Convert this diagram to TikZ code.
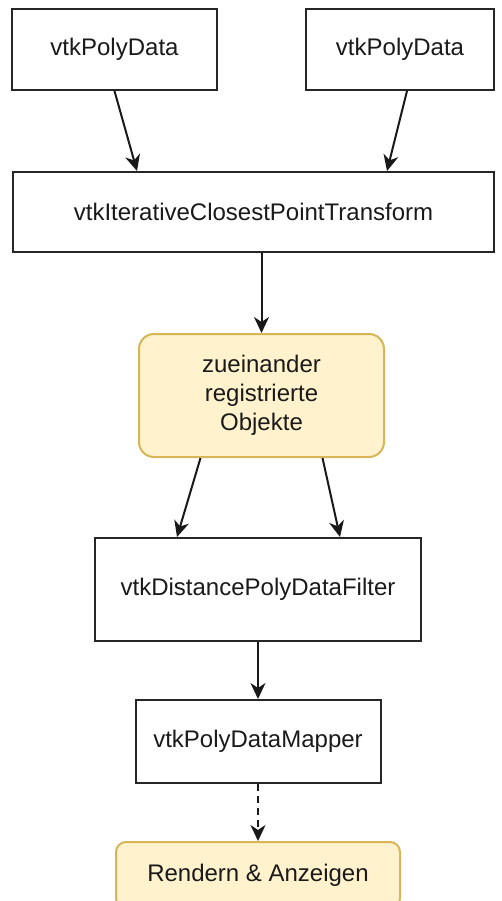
\documentclass[tikz,border=0pt]{standalone}
\usepackage{fontspec}
\setmainfont{Liberation Sans}
\usetikzlibrary{arrows.meta}
\definecolor{txt}{HTML}{1A1A1A}
\definecolor{yfill}{HTML}{FFF2CC}
\definecolor{ydraw}{HTML}{D6B656}
\tikzset{
  box/.style={draw=black!85, line width=2pt, fill=white, text=txt, align=center, inner sep=0pt,
    font=\fontsize{24}{29}\selectfont},
  ybox/.style={box, draw=ydraw, fill=yfill, rounded corners=15pt},
  arr/.style={line width=2pt, black!90, -{Stealth[length=16pt,width=15pt,inset=5pt]}},
  darr/.style={arr, dash pattern=on 7pt off 5pt},
}
\begin{document}
\begin{tikzpicture}[x=1pt,y=-1pt]
\clip (0,0) rectangle (502,901);
\fill[white] (0,0) rectangle (502,901);
\node[box, minimum width=205pt, minimum height=81pt] (b1) at (114.5,49.5) {vtkPolyData};
\node[box, minimum width=188pt, minimum height=81pt] (b2) at (400,49.5) {vtkPolyData};
\node[box, minimum width=481pt, minimum height=80pt] (b3) at (253.5,212) {vtkIterativeClosestPointTransform};
\node[ybox, minimum width=245pt, minimum height=123pt] (y1) at (261.5,395.5) {zueinander\\registrierte\\Objekte};
\node[box, minimum width=326pt, minimum height=103pt] (b4) at (258,589.5) {vtkDistancePolyDataFilter};
\node[box, minimum width=245pt, minimum height=83pt] (b5) at (258,741.5) {vtkPolyDataMapper};
\node[ybox, rounded corners=10pt, minimum width=284pt, minimum height=66pt] (y2) at (258,875) {Rendern \& Anzeigen};
\draw[arr] (b1.south) -- ([xshift=-116.5pt]b3.north);
\draw[arr] ([xshift=7pt]b2.south) -- ([xshift=133.5pt]b3.north);
\draw[arr] ([xshift=8pt]b3.south) -- (y1.north);
\draw[arr] ([xshift=-61pt]y1.south) -- ([xshift=-81pt]b4.north);
\draw[arr] ([xshift=61pt]y1.south) -- ([xshift=82pt]b4.north);
\draw[arr] (b4.south) -- (b5.north);
\draw[darr] (b5.south) -- (y2.north);
\end{tikzpicture}
\end{document}
